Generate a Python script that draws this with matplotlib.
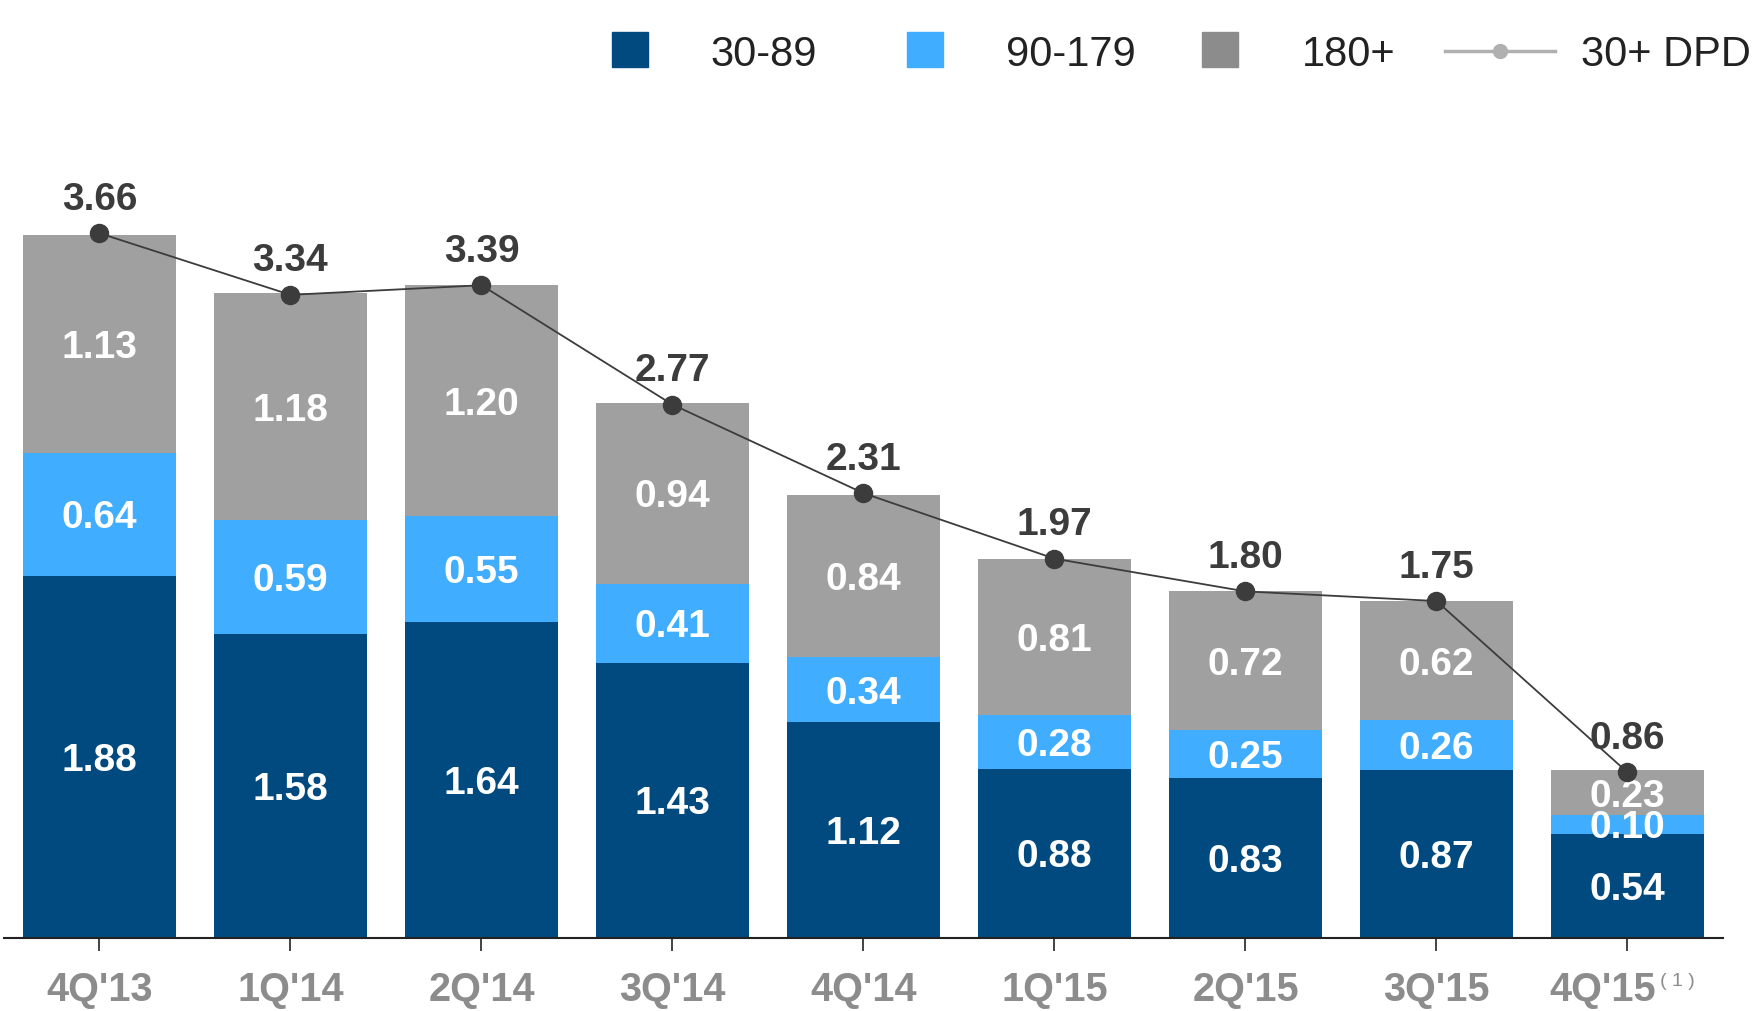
import matplotlib.pyplot as plt
from matplotlib.patches import Rectangle
from matplotlib.lines import Line2D
from matplotlib.transforms import ScaledTranslation
import numpy as np

# ── Data ──────────────────────────────────────────────────────────────────────
quarters = ["4Q'13", "1Q'14", "2Q'14", "3Q'14", "4Q'14", "1Q'15", "2Q'15", "3Q'15", "4Q'15"]
dpd_30_89 = [1.88, 1.58, 1.64, 1.43, 1.12, 0.88, 0.83, 0.87, 0.54]
dpd_90_179 = [0.64, 0.59, 0.55, 0.41, 0.34, 0.28, 0.25, 0.26, 0.10]
dpd_180 = [1.13, 1.18, 1.20, 0.94, 0.84, 0.81, 0.72, 0.62, 0.23]
dpd_30_total = [3.66, 3.34, 3.39, 2.77, 2.31, 1.97, 1.80, 1.75, 0.86]

C_DARK = "#004A80"
C_LIGHT = "#40ADFF"
C_GRAY = "#A0A0A0"
C_TOTAL = "#3C3C3C"
C_TICK = "#8C8C8C"
FONT = "Liberation Sans"

W, H = 1758, 1011
fig = plt.figure(figsize=(W / 100, H / 100), dpi=100)
ax = fig.add_axes([4 / W, 73 / H, 1719 / W, 828 / H])

x = np.arange(len(quarters))
bw = 0.8
b1 = np.array(dpd_30_89)
b2 = np.array(dpd_90_179)
b3 = np.array(dpd_180)

ax.bar(x, b1, bw, color=C_DARK, linewidth=0)
ax.bar(x, b2, bw, bottom=b1, color=C_LIGHT, linewidth=0)
ax.bar(x, b3, bw, bottom=b1 + b2, color=C_GRAY, linewidth=0)

# segment labels
for xi, v1, v2, v3 in zip(x, b1, b2, b3):
    for bottom, val in [(0, v1), (v1, v2), (v1 + v2, v3)]:
        ax.text(xi, bottom + val / 2, f"{val:.2f}", ha="center", va="center_baseline",
                color="white", fontsize=28, fontweight="bold", family=FONT)

# 30+ DPD line
ax.plot(x, dpd_30_total, color=C_TOTAL, linewidth=1.3, marker="o",
        markersize=13, zorder=5)
for xi, t in zip(x, dpd_30_total):
    ax.annotate(f"{t:.2f}", (xi, t), xytext=(0, 27), textcoords="offset points",
                ha="center", va="center_baseline", color=C_TOTAL, fontsize=28,
                fontweight="bold", family=FONT, zorder=6)

ax.set_xlim(-0.5, 8.5)
ax.set_ylim(0, 4.3)
ax.set_yticks([])
for s in ["top", "right", "left"]:
    ax.spines[s].set_visible(False)
ax.spines["bottom"].set_color("#222222")
ax.spines["bottom"].set_linewidth(1.5)
ax.set_xticks(x)
ax.set_xticklabels(quarters, fontsize=28.5, fontweight="bold", color=C_TICK, family=FONT)
ax.tick_params(axis="x", length=9, width=1.2, color="#222222", pad=15)

# last label is shifted left to make room for its footnote marker
last = ax.get_xticklabels()[-1]
last.set_transform(last.get_transform() + ScaledTranslation(-0.25, 0, fig.dpi_scale_trans))
fig.text(1660 / W, 1 - 982 / H, "( 1 )", fontsize=14, color=C_TICK,
         family=FONT, ha="left", va="center")

# ── Legend (drawn manually at the top) ───────────────────────────────────────
ly = 1 - 51 / H
for x0, col, label, tx in [(612, C_DARK, "30-89", 710),
                           (907, C_LIGHT, "90-179", 1006),
                           (1202, "#8C8C8C", "180+", 1302)]:
    fig.patches.append(Rectangle((x0 / W, 1 - 67 / H), 36 / W, 35 / H,
                                 transform=fig.transFigure, color=col))
    fig.text(tx / W, ly, label, fontsize=30, color="#222222", family=FONT,
             ha="left", va="center_baseline")
fig.lines.append(Line2D([1445 / W, 1555 / W], [ly, ly], transform=fig.transFigure,
                        color="#B0B0B0", linewidth=2.5))
fig.lines.append(Line2D([1500 / W], [ly], transform=fig.transFigure, marker="o",
                        markersize=10, color="#B0B0B0"))
fig.text(1581 / W, ly, "30+ DPD", fontsize=30, color="#222222", family=FONT,
         ha="left", va="center_baseline")

fig.savefig("out.png", dpi=100, facecolor="white")
